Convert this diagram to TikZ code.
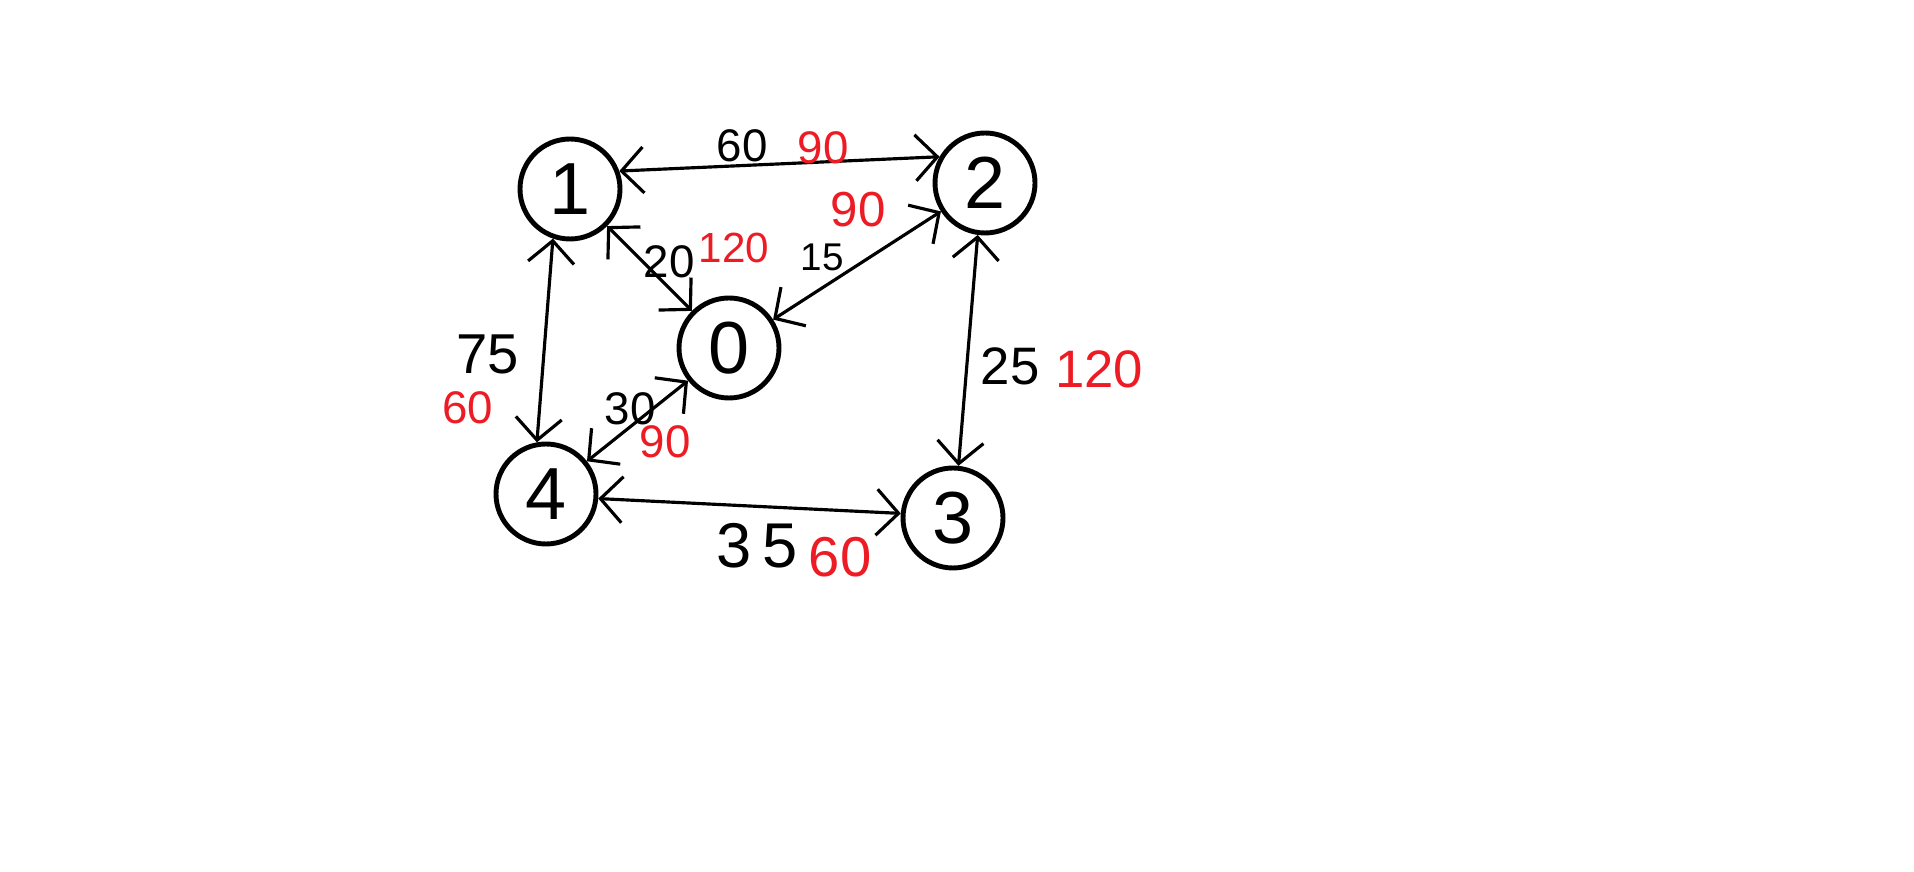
\documentclass[tikz,border=0pt]{standalone}
\usepackage{fontspec}
\setmainfont{Liberation Sans}
\usetikzlibrary{arrows.meta}
\definecolor{paintred}{RGB}{237,28,36}

\tikzset{
  wt/.style={font=\fontsize{13}{15}\selectfont, inner sep=1pt},
  rwt/.style={wt, text=paintred},
}

\begin{document}
\begin{tikzpicture}
      \useasboundingbox (0,0) rectangle (19.14,8.72);

      \begin{scope}[every node/.style={circle,line width=1.4pt,draw,minimum size=1cm,
          font=\fontsize{21}{25}\selectfont}]
        \node (n1) at (5.70,6.83) {1};
        \node (n2) at (9.85,6.89) {2};
        \node (n0) at (7.29,5.24) {0};
        \node (n4) at (5.46,3.78) {4};
        \node (n3) at (9.53,3.54) {3};
      \end{scope}

      \begin{scope}[line width=0.9pt,>={Straight Barb[length=2.2mm,width=4.6mm]}]
        \path [<->] (n1.20) edge (n2.150);
        \path [<->] (n2) edge (n0);
        \path [<->] (n1) edge (n0);
        \path [<->] (n1.-109) edge (n4.100);
        \path [<->] (n4) edge (n0);
        \path [<->] (n4.-5) edge (n3.175);
        \path [<->] (n2.-98) edge (n3.84);
      \end{scope}

      % weights
      \node[wt] (w12) at (7.42,7.26) {60};
      \node[rwt] (r12) at (8.23,7.24) {90};
      \node[rwt, font=\fontsize{14}{16}\selectfont] (r20) at (8.58,6.62) {90};
      \node[wt, font=\fontsize{11}{13}\selectfont] (w20) at (8.22,6.15) {15};
      \node[wt] (w10) at (6.69,6.10) {20};
      \node[rwt, font=\fontsize{12}{14}\selectfont] (r10) at (7.34,6.24) {120};
      \node[wt, font=\fontsize{16}{18}\selectfont] (w14) at (4.88,5.18) {75};
      \node[rwt] (r14) at (4.68,4.64) {60};
      \node[wt] (w40) at (6.30,4.63) {30};
      \node[rwt] (r40) at (6.65,4.30) {90};
      \node[wt, font=\fontsize{18}{20}\selectfont] (w43) at (7.57,3.26) {3\,5};
      \node[rwt, font=\fontsize{16}{18}\selectfont] (r43) at (8.40,3.15) {60};
      \node[wt, font=\fontsize{15}{17}\selectfont] (w23) at (10.10,5.06) {25};
      \node[rwt, font=\fontsize{15}{17}\selectfont] (r23) at (10.99,5.03) {120};
\end{tikzpicture}
\end{document}
